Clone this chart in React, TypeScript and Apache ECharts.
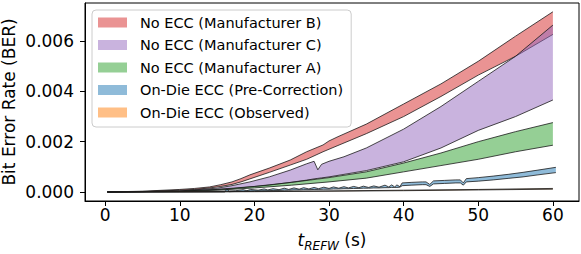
import React, { useEffect, useRef } from "react";
import * as echarts from "echarts";

// t_REFW (s) sample points and BER band bounds
const T_B = [0.3, 5, 10, 12, 14, 15.5, 17, 18.2, 19.4, 22, 24.8, 27, 29.2, 30, 31.2, 35, 40, 45, 50, 55, 60];
const B_LOW = [0, 0.00001, 0.00007, 0.0001, 0.00016, 0.00022, 0.0003, 0.0004, 0.00052, 0.00078, 0.00107, 0.0013, 0.0016, 0.0017, 0.00185, 0.00232, 0.003, 0.0038, 0.00465, 0.0054, 0.00627];
const B_HIGH = [0, 0.00003, 0.0001, 0.00014, 0.0002, 0.00029, 0.0004, 0.00053, 0.00068, 0.00095, 0.00127, 0.0016, 0.00187, 0.00203, 0.0022, 0.0027, 0.0035, 0.0043, 0.0052, 0.0062, 0.00717];

const T_C = [0.3, 10, 15, 17, 19.4, 22, 24.8, 27, 28, 28.5, 29, 30, 32, 35, 40, 45, 50, 55, 60];
const C_LOW = [0, 0.00003, 0.0001, 0.00013, 0.0002, 0.00027, 0.00038, 0.00047, 0.00052, 0.00054, 0.00056, 0.0006, 0.0007, 0.00085, 0.0012, 0.00175, 0.00245, 0.003, 0.00366];
const C_HIGH = [0, 0.00004, 0.00015, 0.00025, 0.0004, 0.0006, 0.00087, 0.00112, 0.00122, 0.00088, 0.0011, 0.00122, 0.0014, 0.00175, 0.0025, 0.0034, 0.0044, 0.0054, 0.00664];

const T_A = [0.3, 10, 15, 20, 25, 30, 35, 40, 45, 50, 55, 60];
const A_LOW = [0, 0.00002, 0.00007, 0.00016, 0.00027, 0.0004, 0.00055, 0.0008, 0.00105, 0.0013, 0.0016, 0.00186];
const A_HIGH = [0, 0.00003, 0.0001, 0.00022, 0.00038, 0.00057, 0.0008, 0.00115, 0.00155, 0.002, 0.0024, 0.00276];

const T_PRE = [0.3, 16.0, 16.3, 16.6, 17.5, 18.5, 19.0, 19.5, 20.5, 21.3, 21.8, 22.5, 23.3, 24.0, 24.6, 25.3, 26.0, 26.6, 27.3, 28.0, 28.6, 29.3, 30.0, 30.6, 31.3, 32.0, 32.6, 33.3, 34.0, 34.6, 35.3, 36.0, 36.7, 37.5, 38.0, 38.4, 38.8, 39.1, 39.5, 39.8, 41.0, 42.5, 43.0, 43.5, 44.0, 45.5, 47.0, 47.6, 48.0, 48.4, 50.0, 52.0, 54.0, 56.0, 58.0, 60.4];
const PRE_LOW = [0, 0, 0.00004, 0.00001, 0.00002, 0.00003, 0.00003, 0.00004, 0.00004, 0.00005, 0.00005, 0.00006, 0.00006, 0.00007, 0.00007, 0.00008, 0.00008, 0.00009, 0.00009, 0.0001, 0.0001, 0.00011, 0.00011, 0.00012, 0.00012, 0.00013, 0.00013, 0.00014, 0.00014, 0.00015, 0.00015, 0.00016, 0.00016, 0.00017, 0.00017, 0.00018, 0.00018, 0.00018, 0.00019, 0.00025, 0.00027, 0.00029, 0.00029, 0.00022, 0.00032, 0.00034, 0.00036, 0.00036, 0.00027, 0.0004, 0.00043, 0.00048, 0.00054, 0.0006, 0.00068, 0.00077];
const PRE_HIGH = [0, 0.00003, 0.00012, 0.00004, 0.00005, 0.00009, 0.00005, 0.0001, 0.00007, 0.00012, 0.00008, 0.00013, 0.00009, 0.00015, 0.0001, 0.00016, 0.00011, 0.00017, 0.00012, 0.00018, 0.00013, 0.00019, 0.00014, 0.0002, 0.00015, 0.00021, 0.00016, 0.00022, 0.00017, 0.00023, 0.00018, 0.00024, 0.00019, 0.00027, 0.0002, 0.00028, 0.0002, 0.00028, 0.00021, 0.00036, 0.00038, 0.0004, 0.0004, 0.0003, 0.00044, 0.00046, 0.00048, 0.00048, 0.00036, 0.00053, 0.00057, 0.00063, 0.0007, 0.00078, 0.00087, 0.00098];

const T_OBS = [0.3, 10, 20, 30, 40, 50, 60];
const OBS_LOW = [0, 0, 0.00001, 0.00003, 0.00005, 0.00008, 0.00011];
const OBS_HIGH = [0, 0.000005, 0.00002, 0.00004, 0.00007, 0.0001, 0.00014];

const X_TICKS = [0, 10, 20, 30, 40, 50, 60];
const Y_TICKS = [0, 0.002, 0.004, 0.006];

const NAMES = [
  "No ECC (Manufacturer B)",
  "No ECC (Manufacturer C)",
  "No ECC (Manufacturer A)",
  "On-Die ECC (Pre-Correction)",
  "On-Die ECC (Observed)",
];
const COLORS = [
  "rgba(214,39,40,0.5)",
  "rgba(148,103,189,0.5)",
  "rgba(44,160,44,0.5)",
  "rgba(31,119,180,0.5)",
  "rgba(255,127,14,0.5)",
];

const FONT = "DejaVu Sans";

function band(name: string, color: string, ts: number[], lo: number[], hi: number[]) {
  return {
    type: "custom",
    name,
    data: ts.map((t, i) => [t, lo[i], hi[i]]),
    encode: { x: 0, y: [1, 2] },
    itemStyle: { color },
    clip: true,
    renderItem: (params: any, api: any) => {
      if (params.dataIndex !== 0) return null;
      const up = ts.map((t, i) => api.coord([t, hi[i]]));
      const dn = ts.map((t, i) => api.coord([t, lo[i]]));
      const edge = { stroke: "#1a1a1a", lineWidth: 0.8, fill: null };
      return {
        type: "group",
        children: [
          {
            type: "polygon",
            shape: { points: up.concat(dn.slice().reverse()) },
            style: { fill: color },
          },
          { type: "polyline", shape: { points: up }, style: edge },
          { type: "polyline", shape: { points: dn }, style: edge },
        ],
      };
    },
  };
}

export default function App() {
  const ref = useRef<HTMLDivElement>(null);
  useEffect(() => {
    if (!ref.current) return;
    const chart = echarts.init(ref.current, null, { renderer: "svg" });
    chart.setOption({
      animation: false,
      textStyle: { fontFamily: FONT },
      grid: {
        left: 85,
        right: 2,
        top: 3,
        bottom: 53,
        containLabel: false,
        outerBoundsMode: "none",
        show: true,
        borderColor: "#000",
        borderWidth: 1,
        backgroundColor: "transparent",
      },
      legend: {
        orient: "vertical",
        left: 92,
        top: 10,
        padding: [5, 8, 7, 6],
        itemWidth: 29,
        itemHeight: 10,
        itemGap: 7.5,
        borderColor: "#cccccc",
        borderWidth: 1,
        borderRadius: 4,
        backgroundColor: "rgba(255,255,255,0.8)",
        textStyle: { fontFamily: FONT, fontSize: 14.5, color: "#000", lineHeight: 15, padding: [0, 0, 0, 8] },
        data: NAMES.map((n, i) => ({ name: n, icon: "rect", itemStyle: { color: COLORS[i] } })),
      },
      xAxis: {
        type: "value",
        min: -2.7,
        max: 63.5,
        name: "{i|t}{s|REFW}{n| (s)}",
        nameLocation: "middle",
        nameGap: 30,
        nameMoveOverlap: false,
        nameTextStyle: {
          rich: {
            i: { fontFamily: FONT, fontStyle: "italic", fontSize: 17, color: "#000", verticalAlign: "bottom" },
            s: { fontFamily: FONT, fontStyle: "italic", fontSize: 12, color: "#000", verticalAlign: "bottom", padding: [0, 0, -4, 0] },
            n: { fontFamily: FONT, fontSize: 17, color: "#000", verticalAlign: "bottom" },
          },
        },
        axisLine: { show: true, onZero: false, lineStyle: { color: "#000", width: 1 } },
        axisTick: { show: true, length: 5, lineStyle: { color: "#000", width: 1 }, customValues: X_TICKS },
        axisLabel: { fontFamily: FONT, fontSize: 17, color: "#000", margin: 5, customValues: X_TICKS, formatter: (v: number) => String(v) },
        splitLine: { show: false },
      },
      yAxis: {
        type: "value",
        min: -0.00036,
        max: 0.00752,
        name: "Bit Error Rate (BER)",
        nameLocation: "middle",
        nameGap: 68,
        nameMoveOverlap: false,
        nameTextStyle: { fontFamily: FONT, fontSize: 17, color: "#000" },
        axisLine: { show: true, onZero: false, lineStyle: { color: "#000", width: 1 } },
        axisTick: { show: true, length: 5, lineStyle: { color: "#000", width: 1 }, customValues: Y_TICKS },
        axisLabel: { fontFamily: FONT, fontSize: 17, color: "#000", margin: 11, customValues: Y_TICKS, formatter: (v: number) => v.toFixed(3) },
        splitLine: { show: false },
      },
      series: [
        band(NAMES[0], COLORS[0], T_B, B_LOW, B_HIGH),
        band(NAMES[1], COLORS[1], T_C, C_LOW, C_HIGH),
        band(NAMES[2], COLORS[2], T_A, A_LOW, A_HIGH),
        band(NAMES[3], COLORS[3], T_PRE, PRE_LOW, PRE_HIGH),
        band(NAMES[4], COLORS[4], T_OBS, OBS_LOW, OBS_HIGH),
      ],
    });
    return () => chart.dispose();
  }, []);
  return (
    <div
      ref={ref}
      style={{ position: "absolute", left: 0, top: 0, width: 581, height: 254 }}
    />
  );
}
